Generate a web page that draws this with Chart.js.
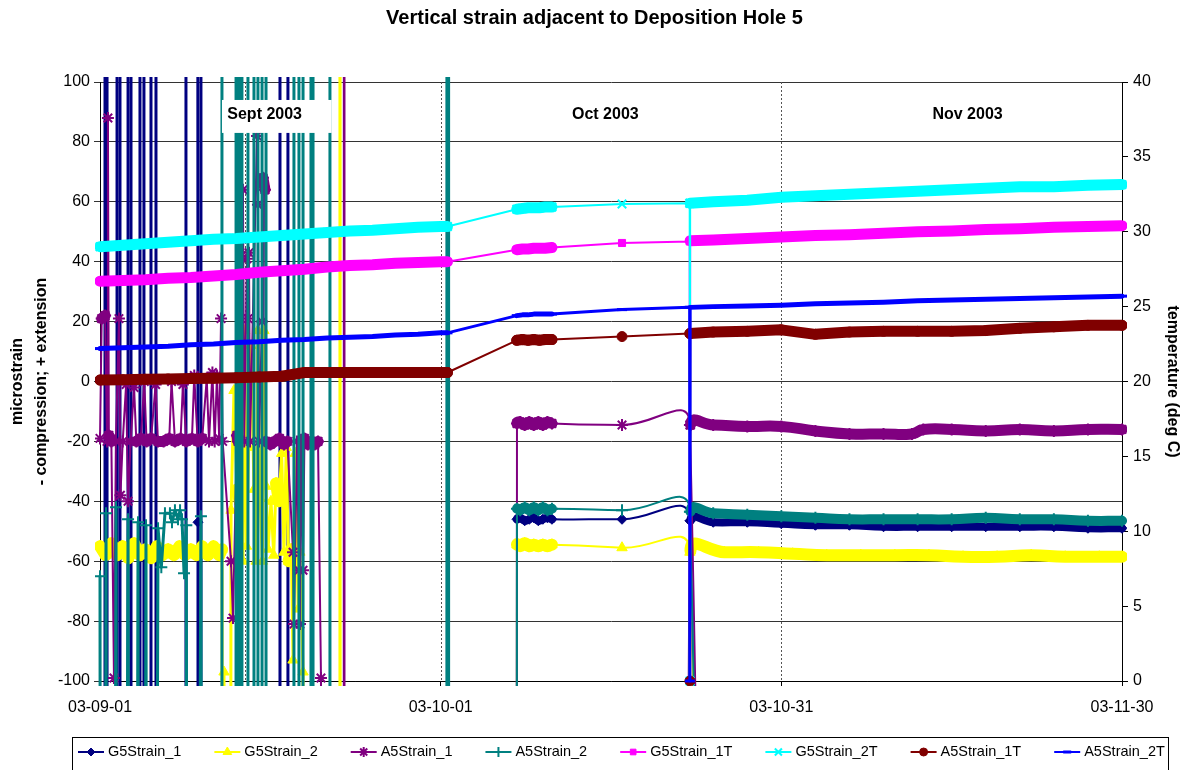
<!DOCTYPE html>
<html>
<head>
<meta charset="utf-8">
<title>Vertical strain adjacent to Deposition Hole 5</title>
<script src="https://cdn.jsdelivr.net/npm/chart.js@4.4.1/dist/chart.umd.min.js"></script>
<style>
  html, body { margin: 0; padding: 0; background: #fff; }
  canvas { display: block; }
</style>
</head>
<body>
<canvas id="chart" width="1189" height="770"></canvas>
<script>
// off-scale logger readings (spikes run past the axis)
const HI = 1000;
const LO = -1000;

// x axis is days since 03-09-01
const xTickDays = [0, 30, 60, 90];
const xTickLabels = ['03-09-01', '03-10-01', '03-10-31', '03-11-30'];
const dottedDays = [12.8, 30, 60];
const monthNames = ['Sept 2003', 'Oct 2003', 'Nov 2003'];
const monthLabelDays = [14.5, 44.5, 76.4];
const monthLabelLevel = 89;

const seriesNames = ['G5Strain_1', 'G5Strain_2', 'A5Strain_1', 'A5Strain_2',
                     'G5Strain_1T', 'G5Strain_2T', 'A5Strain_1T', 'A5Strain_2T'];

// ---- strain gauges (left axis), September part ----
const g5s1SeptDays = [0, 0.44, 0.44, 0.62, 0.62, 1.5, 1.5, 1.76, 1.76, 2.47, 2.47, 2.73, 2.73, 3.52, 3.52,
  3.87, 3.87, 4.49, 4.49, 4.93, 4.93, 7.57, 7.57, 8.54, 8.63, 8.63, 8.89, 8.89, 15.85, 15.85, 16.55, 16.55, 30.6, 30.6];
const g5s1SeptVals = [LO, LO, HI, HI, LO, LO, HI, HI, LO, LO, HI, HI, LO, LO, HI,
  HI, LO, LO, HI, HI, LO, LO, HI, HI, -47, LO, LO, HI, HI, LO, LO, HI, HI, LO];

const g5s2SeptDays = [0, 0.5, 1.0, 1.5, 2.0, 2.5, 3.0, 3.5, 4.0, 4.5, 5.0, 5.5, 6.0, 6.5, 7.0, 7.5, 8.0, 8.5, 9.0, 9.5,
  10.0, 10.5, 10.75, 10.85, 10.92, 11.3, 11.54, 11.8, 12.06, 12.3, 12.59, 12.75, 12.9, 13.1, 13.3, 13.56, 13.75, 13.9,
  14.1, 14.3, 14.44, 14.62, 14.8, 15.06, 15.3, 15.5, 15.76, 16.0, 16.2, 16.4, 16.6, 16.85, 17.0, 17.2, 17.45, 17.6,
  17.88, 18.0, 21.1, 21.13, 21.16];
const g5s2SeptVals = [-55, -58, -54, -58, -55, -59, -54, -58, -56, -59, -55, -58, -56, -58, -55, -58, -56, -58, -55, -58,
  -55, -58, -56, LO, -97, LO, -43, -3, -36, -40, -60, 17, -55, -22, 12, -36, -60, 17,
  -39, -60, 17, -35, -56, -40, -58, -34, -40, -24, -57, -22, -60, -56, -93, -24, -76, -57,
  -97, LO, LO, HI, LO];

const a5s1SeptDays = [0, 0.15, 0.45, 0.62, 0.7, 0.78, 1.0, 1.23, 1.4, 1.67, 1.8, 2.0, 2.3, 2.47, 2.7, 3.0, 3.2, 3.6,
  3.9, 4.1, 4.5, 4.9, 5.1, 5.6, 6.1, 6.3, 6.6, 7.1, 7.3, 7.6, 8.1, 8.3, 8.6, 9.0, 9.4, 9.6, 9.9, 10.1, 10.3, 10.5,
  10.66, 10.8, 11.54, 11.71, 12.06, 12.15, 12.42, 12.59, 12.7, 12.94, 13.03, 13.12, 13.21, 13.83, 13.91, 14.0, 14.27,
  14.35, 14.53, 14.6, 15.0, 15.4, 15.8, 16.2, 16.5, 17.0, 17.08, 17.35, 17.52, 17.61, 17.7, 17.88, 18.0, 18.3, 18.6,
  18.9, 19.2, 19.46, 19.6, 21.45, 21.49, 21.53];
const a5s1SeptVals = [-19, 21, 22, -20, 88, -18, -20, -99, -20, 21, -38, -20, -1, -40, -20, -2, -20, -19,
  0, -20, -19, -1, -20, -20, -19, 0, -20, -19, -1, -20, -19, 2, -20, -19, 1, -20, 3, -20, 2, -19,
  21, -20, -60, -79, -18, -20, 42, 64, -20, 41, 21, 43, -20, 82, 59, -20, 20,
  68, 64, -20, -21, -20, -19, -21, -20, -57, -81, -20, -63, -81, -20, -63, -19, -21, -20,
  -21, -20, -99, LO, LO, HI, LO];

const a5s2SeptDays = [0, 0.2, 0.53, 0.8, 1.41, 1.7, 2.47, 2.8, 3.35, 3.6, 4.05, 4.3, 5.11, 5.4, 5.72, 6.16, 6.34,
  6.6, 6.87, 7.05, 7.22, 7.4, 7.6, 7.9, 8.89, 9.1,
  10.74, 10.74, 11.98, 11.98, 12.16, 12.16, 12.33, 12.33, 12.5, 12.5, 13.03, 13.03, 13.56, 13.56, 13.91, 13.91,
  14.27, 14.27, 14.62, 14.62, 17.08, 17.08, 17.52, 17.52, 17.88, 17.88, 18.58, 18.58, 18.76, 18.76, 20.25, 20.25,
  30.55, 30.55, 30.7, 30.7];
const a5s2SeptVals = [-65, LO, -44, LO, -42, LO, -46, LO, -47, LO, -48, LO, -49, -62, -44, -44, -47,
  -43, -46, -43, -46, -64, -48, LO, -45, LO,
  LO, HI, HI, LO, LO, HI, HI, LO, LO, HI, HI, LO, LO, HI, HI, LO,
  LO, HI, HI, LO, LO, HI, HI, LO, LO, HI, HI, LO, LO, HI, HI, LO,
  LO, HI, HI, LO];

// ---- strain gauges, October - November part (smoothed line) ----
const g5s1LateDays = [36.7, 36.72, 37.0, 37.4, 37.8, 38.2, 38.6, 39.0, 39.4, 39.8, 45.97, 51.95, 51.97, 52.0,
  54, 57, 60, 63, 66, 69, 72, 75, 78, 81, 84, 87, 90];
const g5s1LateVals = [LO, -46, -45.5, -46.5, -46, -45.5, -46.5, -46, -45.5, -46, -46, -46.5, LO, -46.5,
  -47, -47, -47.5, -48, -48, -48.5, -48.5, -48.5, -48.5, -48.5, -48.5, -49, -49];

const g5s2LateDays = [36.7, 36.72, 37.0, 37.4, 37.8, 38.2, 38.6, 39.0, 39.4, 39.8, 45.97, 51.95, 51.97, 52.0,
  55, 58, 61, 64, 67, 70, 73, 76, 79, 82, 85, 88, 90];
const g5s2LateVals = [LO, -54.5, -55, -54, -55, -54.5, -55, -54.5, -55, -54.5, -55.5, -57, LO, -56.5,
  -57, -57, -57.5, -58, -58, -58, -58, -58.5, -58.5, -58, -58.5, -58.5, -58.5];

const a5s1LateDays = [36.7, 36.72, 37.0, 37.4, 37.8, 38.2, 38.6, 39.0, 39.4, 39.8, 45.97, 51.95, 51.97, 52.0,
  54, 57, 60, 63, 66, 69, 71.5, 72.5, 75, 78, 81, 84, 87, 90];
const a5s1LateVals = [LO, -14, -13.5, -14.5, -13.5, -14.5, -13.5, -14.5, -13.5, -14, -14.5, -14.5, LO, -14.5,
  -14.5, -15, -15, -16.5, -17.5, -17.5, -17.5, -16, -16, -16.5, -16, -16.5, -16, -16];

const a5s2LateDays = [36.7, 36.72, 37.0, 37.4, 37.8, 38.2, 38.6, 39.0, 39.4, 39.8, 45.97, 51.95, 51.97, 52.0,
  54, 57, 60, 63, 66, 69, 72, 75, 78, 81, 84, 87, 90];
const a5s2LateVals = [LO, -42.5, -43, -42, -43, -42, -43, -42, -43, -42.5, -43, -43.5, LO, -43.5,
  -44, -44.5, -45, -45.5, -46, -46, -46, -46, -45.5, -46, -46, -46.5, -46.5];

// ---- temperatures (right axis) ----
const tempDays = [0, 2, 4, 6, 8, 10, 12, 14, 16, 18, 20, 22, 24, 26, 28, 30, 30.6,
  36.7, 37.2, 37.7, 38.2, 38.7, 39.2, 39.8, 45.97, 51.93, 51.95, 51.97,
  54, 57, 60, 63, 66, 69, 72, 75, 78, 81, 84, 87, 90];
const g5s1TVals = [26.7, 26.75, 26.8, 26.9, 26.95, 27.05, 27.15, 27.3, 27.4, 27.5, 27.65, 27.75, 27.8, 27.9, 27.95, 28.0, 28.0,
  28.8, 28.85, 28.85, 28.9, 28.9, 28.9, 28.95, 29.25, 29.35, 0, 29.4,
  29.45, 29.55, 29.65, 29.75, 29.8, 29.9, 30.0, 30.05, 30.15, 30.2, 30.3, 30.35, 30.4];
const g5s2TVals = [29.0, 29.1, 29.2, 29.3, 29.4, 29.5, 29.55, 29.65, 29.75, 29.85, 29.95, 30.05, 30.1, 30.2, 30.3, 30.35, 30.35,
  31.5, 31.55, 31.6, 31.6, 31.6, 31.65, 31.65, 31.85, 31.9, 0, 31.9,
  32.0, 32.1, 32.3, 32.4, 32.5, 32.6, 32.7, 32.8, 32.9, 33.0, 33.0, 33.1, 33.15];
const a5s1TVals = [20.1, 20.12, 20.15, 20.17, 20.2, 20.22, 20.25, 20.3, 20.35, 20.6, 20.6, 20.6, 20.6, 20.6, 20.6, 20.6, 20.6,
  22.75, 22.8, 22.75, 22.8, 22.75, 22.8, 22.8, 23.0, 23.2, 0, 23.2,
  23.3, 23.35, 23.45, 23.15, 23.3, 23.35, 23.35, 23.35, 23.4, 23.55, 23.65, 23.75, 23.75];
const a5s2TVals = [22.2, 22.25, 22.3, 22.35, 22.45, 22.5, 22.6, 22.65, 22.75, 22.8, 22.9, 22.95, 23.0, 23.1, 23.15, 23.25, 23.25,
  24.4, 24.45, 24.45, 24.5, 24.5, 24.5, 24.5, 24.8, 24.95, 0, 24.95,
  25.0, 25.05, 25.1, 25.2, 25.25, 25.3, 25.4, 25.45, 25.5, 25.55, 25.6, 25.65, 25.7];

// look of each series (Excel marker style)
const look = {
  G5Strain_1:  { color: '#000080', marker: 'rectRot',  radius: 5, pbw: 1, band: 8 },
  G5Strain_2:  { color: '#ffff00', marker: 'triangle', radius: 6, pbw: 1, band: 12 },
  A5Strain_1:  { color: '#800080', marker: 'star',     radius: 6, pbw: 2, band: 11 },
  A5Strain_2:  { color: '#008080', marker: 'cross',    radius: 6, pbw: 2, band: 10 },
  G5Strain_1T: { color: '#ff00ff', marker: 'rect',     radius: 5, pbw: 1, band: 11 },
  G5Strain_2T: { color: '#00ffff', marker: 'crossRot', radius: 6, pbw: 2, band: 11 },
  A5Strain_1T: { color: '#800000', marker: 'circle',   radius: 5, pbw: 1, band: 11 },
  A5Strain_2T: { color: '#0000ff', marker: 'line',     radius: 5, pbw: 3, band: 5 }
};

function pts(days, vals) {
  if (days.length !== vals.length) console.warn('length mismatch', days.length, vals.length);
  return days.map((d, i) => ({ x: d, y: vals[i] }));
}

// dense runs of markers look like a thick band, sparse ones are a thin line
function segWidth(band, thin, maxDy) {
  return ctx => {
    const a = ctx.p0.parsed, b = ctx.p1.parsed;
    return (b.x - a.x <= 3.1 && Math.abs(b.y - a.y) < maxDy) ? band : thin;
  };
}

function makeSet(name, data, axis, tension, thin, maxDy, band) {
  const s = look[name];
  return {
    label: name,
    data: data,
    yAxisID: axis,
    borderColor: s.color,
    backgroundColor: s.color,
    borderWidth: thin,
    tension: tension,
    pointStyle: s.marker,
    pointRadius: s.radius,
    pointBorderWidth: s.pbw,
    pointBackgroundColor: s.color,
    pointBorderColor: s.color,
    borderJoinStyle: 'round',
    borderCapStyle: 'round',
    clip: 5,
    segment: { borderWidth: segWidth(band || s.band, thin, maxDy) }
  };
}

const datasets = [
  makeSet('G5Strain_1', pts(g5s1SeptDays, g5s1SeptVals), 'y', 0, 3, 8),
  makeSet('G5Strain_1', pts(g5s1LateDays, g5s1LateVals), 'y', 0.5, 2, 8),
  makeSet('G5Strain_2', pts(g5s2SeptDays, g5s2SeptVals), 'y', 0, 3, 8),
  makeSet('G5Strain_2', pts(g5s2LateDays, g5s2LateVals), 'y', 0.5, 2, 8),
  makeSet('A5Strain_1', pts(a5s1SeptDays, a5s1SeptVals), 'y', 0, 2, 8),
  makeSet('A5Strain_1', pts(a5s1LateDays, a5s1LateVals), 'y', 0.5, 2, 8),
  makeSet('A5Strain_2', pts(a5s2SeptDays, a5s2SeptVals), 'y', 0, 3, 8, 3),
  makeSet('A5Strain_2', pts(a5s2LateDays, a5s2LateVals), 'y', 0.5, 2, 8),
  makeSet('G5Strain_1T', pts(tempDays, g5s1TVals), 'y2', 0, 2, 3),
  makeSet('G5Strain_2T', pts(tempDays, g5s2TVals), 'y2', 0, 2, 3),
  makeSet('A5Strain_1T', pts(tempDays, a5s1TVals), 'y2', 0, 2, 3),
  makeSet('A5Strain_2T', pts(tempDays, a5s2TVals), 'y2', 0, 3, 3)
];
// later series are painted on top, as in the spreadsheet
datasets.forEach((d, i) => { d.order = datasets.length - 1 - i; });

const FONT = '"Liberation Sans", Arial, sans-serif';
Chart.defaults.font.family = FONT;
Chart.defaults.font.size = 16;
Chart.defaults.color = '#000';

const dottedLines = {
  id: 'dottedLines',
  beforeDatasetsDraw(chart) {
    const { ctx, chartArea: a, scales: { x } } = chart;
    ctx.save();
    ctx.strokeStyle = '#555';
    ctx.lineWidth = 1;
    ctx.setLineDash([2, 2]);
    dottedDays.forEach(d => {
      const px = Math.round(x.getPixelForValue(d)) + 0.5;
      ctx.beginPath();
      ctx.moveTo(px, a.top);
      ctx.lineTo(px, a.bottom);
      ctx.stroke();
    });
    ctx.restore();
  }
};

// white text boxes with the month names
const monthBoxes = [[10.74, 20.4], [40.3, 48.7], [72.2, 80.6]];
const monthLabels = {
  id: 'monthLabels',
  afterDatasetsDraw(chart) {
    const { ctx, scales: { x, y } } = chart;
    ctx.save();
    ctx.font = 'bold 16px ' + FONT;
    ctx.textAlign = 'center';
    ctx.textBaseline = 'middle';
    monthNames.forEach((name, i) => {
      const x0 = x.getPixelForValue(monthBoxes[i][0]);
      const x1 = x.getPixelForValue(monthBoxes[i][1]);
      const y0 = y.getPixelForValue(94);
      const y1 = y.getPixelForValue(83);
      ctx.fillStyle = '#fff';
      ctx.fillRect(x0, y0, x1 - x0, y1 - y0);
      ctx.fillStyle = '#000';
      ctx.fillText(name, x.getPixelForValue(monthLabelDays[i]), y.getPixelForValue(monthLabelLevel));
    });
    ctx.restore();
  }
};

// boxed legend along the bottom: line - marker - line, then the name
const boxLegend = {
  id: 'boxLegend',
  afterDraw(chart) {
    const ctx = chart.ctx;
    ctx.save();
    ctx.strokeStyle = '#000';
    ctx.lineWidth = 1;
    ctx.strokeRect(72.5, 737.5, 1096, 60);
    ctx.font = '14.5px ' + FONT;
    ctx.textBaseline = 'middle';
    const py = 752;
    let px = 78;
    seriesNames.forEach(name => {
      const s = look[name];
      ctx.strokeStyle = s.color;
      ctx.fillStyle = s.color;
      ctx.lineWidth = 2;
      ctx.beginPath();
      ctx.moveTo(px, py);
      ctx.lineTo(px + 26, py);
      ctx.stroke();
      ctx.lineWidth = s.pbw;
      Chart.helpers.drawPoint(ctx, { pointStyle: s.marker, radius: s.radius - 1, borderWidth: s.pbw, rotation: 0 }, px + 13, py);
      ctx.fillStyle = '#000';
      ctx.fillText(name, px + 30, py);
      px += 30 + ctx.measureText(name).width + 33;
    });
    ctx.restore();
  }
};

new Chart(document.getElementById('chart'), {
  type: 'line',
  data: { datasets: datasets },
  plugins: [dottedLines, monthLabels, boxLegend],
  options: {
    responsive: false,
    animation: false,
    events: [],
    layout: { padding: { top: 0, left: 0, right: 0, bottom: 52 } },
    plugins: {
      legend: { display: false },
      tooltip: { enabled: false },
      title: {
        display: true,
        text: 'Vertical strain adjacent to Deposition Hole 5',
        font: { size: 20, weight: 'bold', lineHeight: 1.2 },
        color: '#000',
        padding: { top: 6, bottom: 52 }
      }
    },
    scales: {
      x: {
        type: 'linear',
        min: 0,
        max: 90,
        afterBuildTicks: s => { s.ticks = xTickDays.map(v => ({ value: v })); },
        afterFit: s => { s.height = 37; },
        ticks: { autoSkip: false, maxRotation: 0, padding: 12, callback: (v, i) => xTickLabels[i] },
        grid: { drawOnChartArea: false, tickLength: 5, color: '#000' },
        border: { color: '#000' }
      },
      y: {
        position: 'left',
        min: -100,
        max: 100,
        afterFit: s => { s.width = 100; },
        ticks: { stepSize: 20, padding: 4 },
        grid: { color: '#333', tickLength: 6 },
        border: { color: '#000' },
        title: {
          display: true,
          text: ['microstrain', '- compression; + extension'],
          font: { size: 16, weight: 'bold', lineHeight: 1.5 },
          padding: { top: 6, bottom: 0 }
        }
      },
      y2: {
        position: 'right',
        min: 0,
        max: 40,
        afterFit: s => { s.width = 67; },
        ticks: { stepSize: 5, padding: 5 },
        grid: { drawOnChartArea: false, tickLength: 6, color: '#000' },
        border: { color: '#000' },
        title: {
          display: true,
          text: 'temperature (deg C)',
          font: { size: 16, weight: 'bold', lineHeight: 1.5 },
          padding: { top: 5, bottom: 0 }
        }
      }
    }
  }
});
</script>
</body>
</html>
